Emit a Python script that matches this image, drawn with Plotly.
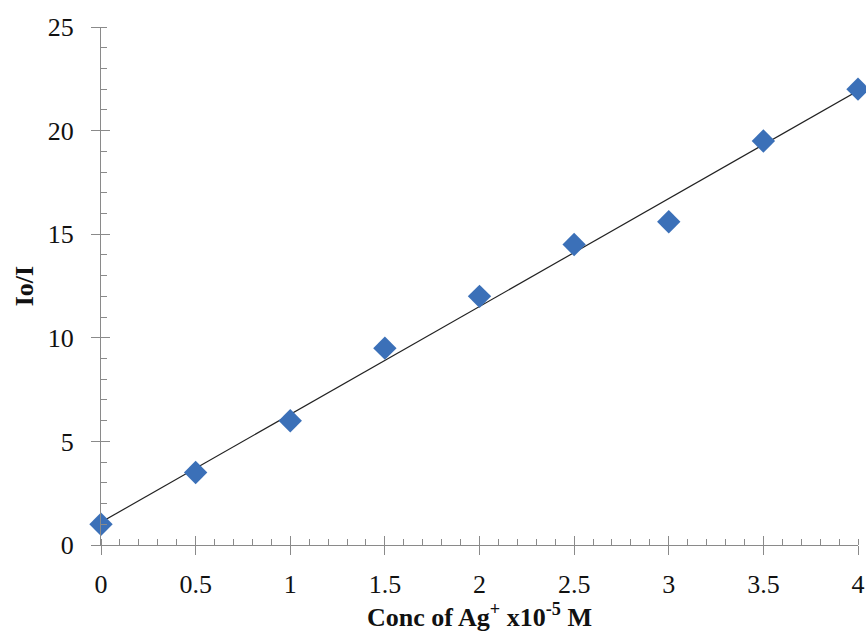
import numpy as np
import plotly.graph_objects as go

conc = [0, 0.5, 1, 1.5, 2, 2.5, 3, 3.5, 4]
io_i = [1.0, 3.5, 6.0, 9.5, 12.0, 14.5, 15.6, 19.5, 22.0]
x_ticks = [0, 0.5, 1, 1.5, 2, 2.5, 3, 3.5, 4]
x_ticklabels = ["0", "0.5", "1", "1.5", "2", "2.5", "3", "3.5", "4"]
y_ticks = [0, 5, 10, 15, 20, 25]

slope, intercept = np.polyfit(conc, io_i, 1)
fit_x = [min(conc), max(conc)]
fit_y = [slope * v + intercept for v in fit_x]

FONT = "Liberation Serif, Times New Roman, serif"
AX = "#8a8a8a"

fig = go.Figure()
fig.add_trace(go.Scatter(x=fit_x, y=fit_y, mode="lines",
                         line=dict(color="#222222", width=1.2),
                         hoverinfo="skip", showlegend=False))
fig.add_trace(go.Scatter(x=conc, y=io_i, mode="markers",
                         marker=dict(symbol="diamond", size=18, color="#3b70b8",
                                     line=dict(width=0)),
                         cliponaxis=False, showlegend=False))
fig.add_trace(go.Scatter(x=[None], y=[None], xaxis="x2", yaxis="y2",
                         showlegend=False, hoverinfo="skip"))

fig.update_layout(
    width=866, height=635,
    margin=dict(l=101, r=8, t=27, b=90, autoexpand=False),
    paper_bgcolor="white", plot_bgcolor="white",
    font=dict(family=FONT, color="#111111", size=26),
    xaxis=dict(range=[0, 4], tickvals=x_ticks, ticktext=x_ticklabels, automargin=False,
               ticklabeloverflow="allow",
               showgrid=False, zeroline=False, showline=True, linecolor=AX, linewidth=1,
               ticks="outside", ticklen=9, tickcolor=AX, tickwidth=1,
               ticklabelstandoff=7,
               minor=dict(dtick=0.1, ticks="inside", ticklen=6, tickcolor=AX, tickwidth=1, showgrid=False),
               tickfont=dict(size=26),
               title=dict(text="<b>Conc of Ag<sup>+</sup> x10<sup>-5</sup> M</b>",
                          font=dict(size=26), standoff=5)),
    yaxis=dict(range=[0, 25], tickvals=y_ticks, automargin=False,
               ticklabeloverflow="allow",
               showgrid=False, zeroline=False, showline=True, linecolor=AX, linewidth=1,
               ticks="outside", ticklen=9, tickcolor=AX, tickwidth=1,
               ticklabelstandoff=12,
               minor=dict(dtick=1, ticks="inside", ticklen=6, tickcolor=AX, tickwidth=1, showgrid=False),
               tickfont=dict(size=26),
               title=dict(text="<b>Io/I</b>", font=dict(size=26), standoff=6)),
    xaxis2=dict(range=[0, 4], overlaying="x", anchor="y2", tickvals=x_ticks, automargin=False,
                showticklabels=False, showgrid=False, zeroline=False, showline=False,
                ticks="inside", ticklen=9, tickcolor=AX, tickwidth=1),
    yaxis2=dict(range=[0, 25], overlaying="y", anchor="x2", tickvals=y_ticks, automargin=False,
                showticklabels=False, showgrid=False, zeroline=False, showline=False,
                ticks="inside", ticklen=9, tickcolor=AX, tickwidth=1),
)

fig.write_html("out.html")
